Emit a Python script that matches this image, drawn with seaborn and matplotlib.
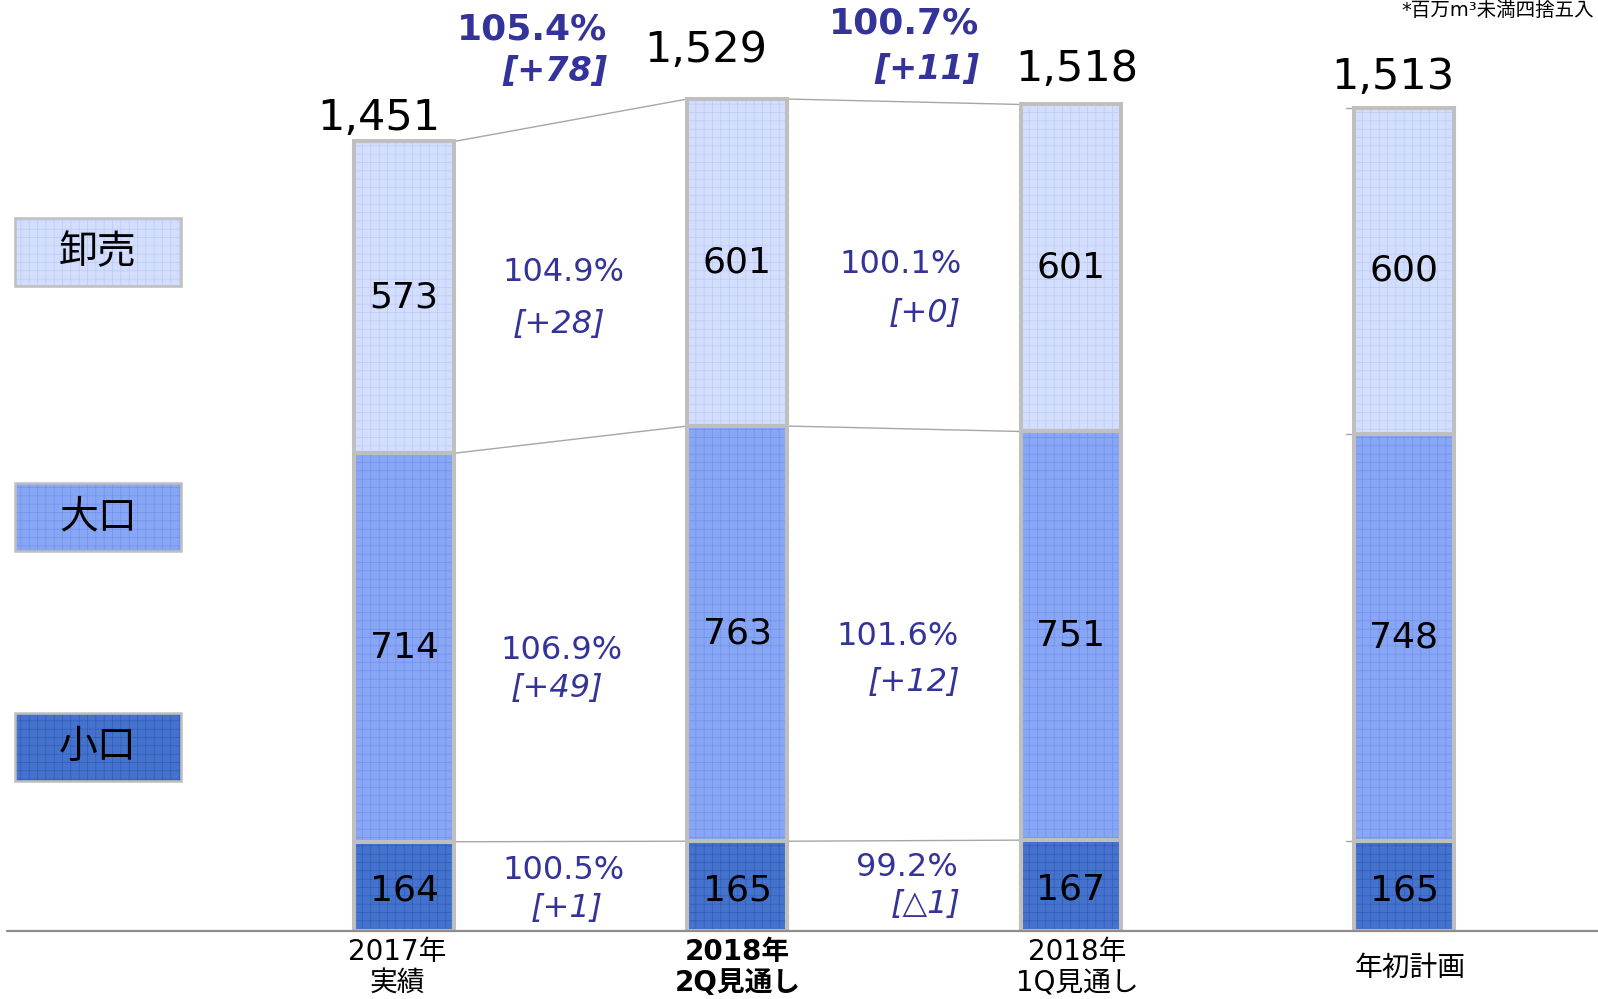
import matplotlib
matplotlib.use("Agg")
import matplotlib.pyplot as plt
from matplotlib.patches import Rectangle
import seaborn as sns
import numpy as np

# ---------------- data ----------------
categories = ["2017年実績", "2018年2Q見通し", "2018年1Q見通し", "年初計画"]
tick_labels = ["2017年\n実績", "2018年\n2Q見通し", "2018年\n1Q見通し", "年初計画"]
small = [164, 165, 167, 165]        # 小口
large = [714, 763, 751, 748]        # 大口
wholesale = [573, 601, 601, 600]    # 卸売
totals = [1451, 1529, 1518, 1513]
series_names = ["卸売", "大口", "小口"]

pct_total = ["105.4%", "100.7%"]
diff_total = ["[+78]", "[+11]"]
pct_wholesale = ["104.9%", "100.1%"]
diff_wholesale = ["[+28]", "[+0]"]
pct_large = ["106.9%", "101.6%"]
diff_large = ["[+49]", "[+12]"]
pct_small = ["100.5%", "99.2%"]
diff_small = ["[+1]", "[△1]"]
note = "*百万m³未満四捨五入"

# ---------------- style ----------------
sns.set_theme(style="white")
plt.rcParams["font.family"] = ["DejaVu Sans", "Noto Sans CJK JP"]
plt.rcParams["text.color"] = "black"
plt.rcParams["hatch.linewidth"] = 0.5

c_whole, h_whole = "#d3ddfc", "#bccbf8"
c_large, h_large = "#88a6f4", "#7092f0"
c_small, h_small = "#4472cc", "#2f5cb8"
border = "#bfbfbf"
purple = "#333399"

fig = plt.figure(figsize=(15.98, 9.99), dpi=100)
ax = fig.add_axes([0, 68 / 999, 1, 931 / 999])

cum2 = [s + l for s, l in zip(small, large)]
cum3 = [s + l + w for s, l, w in zip(small, large, wholesale)]

layers = [(cum3, c_whole, h_whole), (cum2, c_large, h_large), (small, c_small, h_small)]
bar_groups = []
for vals, col, hcol in layers:
    n0 = len(ax.patches)
    sns.barplot(x=categories, y=vals, order=categories, color=col, saturation=1,
                width=0.3, ax=ax, errorbar=None, linewidth=0)
    grp = ax.patches[n0:]
    for p in grp:
        p.set_hatch("++")
        p.set_edgecolor(hcol)
        p.set_linewidth(0)
    bar_groups.append(grp)

# borders
for grp in bar_groups:
    for p in grp:
        ax.add_patch(Rectangle(p.get_xy(), p.get_width(), p.get_height(), fill=False,
                               edgecolor=border, linewidth=2.9, zorder=3))

ax.set_xlim(-1.212, 3.582)
ax.set_ylim(0, 1711)
ax.set_xticks([])
ax.set_yticks([])
ax.set_xlabel("")
ax.set_ylabel("")
for s in ax.spines.values():
    s.set_visible(False)

# baseline
ax.plot([-1.19, 3.582], [0, 0], color="#8c8c8c", lw=1.6, clip_on=False, zorder=4)

# connector lines
for grp in bar_groups:
    for i in range(2):
        a, b = grp[i], grp[i + 1]
        ax.plot([a.get_x() + a.get_width(), b.get_x()],
                [a.get_height(), b.get_height()], color="#a6a6a6", lw=1.0, zorder=2)
    p = grp[3]
    ax.plot([p.get_x() - 0.025, p.get_x()], [p.get_height()] * 2,
            color="#a6a6a6", lw=1.0, zorder=2)

# segment value labels
for i in range(4):
    ax.text(i, small[i] / 2 - 8, f"{small[i]}", ha="center", va="center", fontsize=26, zorder=5)
    ax.text(i, small[i] + large[i] / 2, f"{large[i]}", ha="center", va="center", fontsize=26, zorder=5)
    ax.text(i, cum2[i] + wholesale[i] / 2, f"{wholesale[i]}", ha="center", va="center", fontsize=26, zorder=5)

# totals
tot_dx = [-0.075, -0.095, 0.018, -0.033]
tot_dy = [43, 90, 66, 56]
for i in range(4):
    ax.text(i + tot_dx[i], bar_groups[0][i].get_height() + tot_dy[i], f"{totals[i]:,}",
            ha="center", va="center", fontsize=31)

# change labels
ax.text(0.61, 1657, pct_total[0], ha="right", va="center", fontsize=26, weight="bold", color=purple)
ax.text(0.61, 1580, diff_total[0], ha="right", va="center", fontsize=24, weight="bold", style="italic", color=purple)
ax.text(1.727, 1668, pct_total[1], ha="right", va="center", fontsize=26, weight="bold", color=purple)
ax.text(1.727, 1584, diff_total[1], ha="right", va="center", fontsize=24, weight="bold", style="italic", color=purple)

ax.text(0.477, 1210, pct_wholesale[0], ha="center", va="center", fontsize=23, color=purple)
ax.text(0.466, 1114, diff_wholesale[0], ha="center", va="center", fontsize=23, style="italic", color=purple)
ax.text(1.49, 1225, pct_wholesale[1], ha="center", va="center", fontsize=23, color=purple)
ax.text(1.67, 1135, diff_wholesale[1], ha="right", va="center", fontsize=23, style="italic", color=purple)

ax.text(0.474, 515, pct_large[0], ha="center", va="center", fontsize=23, color=purple)
ax.text(0.46, 446, diff_large[0], ha="center", va="center", fontsize=23, style="italic", color=purple)
ax.text(1.48, 541, pct_large[1], ha="center", va="center", fontsize=23, color=purple)
ax.text(1.67, 457, diff_large[1], ha="right", va="center", fontsize=23, style="italic", color=purple)

ax.text(0.48, 111, pct_small[0], ha="center", va="center", fontsize=23, color=purple)
ax.text(0.49, 41, diff_small[0], ha="center", va="center", fontsize=23, style="italic", color=purple)
ax.text(1.51, 116, pct_small[1], ha="center", va="center", fontsize=23, color=purple)
ax.text(1.67, 48, diff_small[1], ha="right", va="center", fontsize=23, style="italic", color=purple)

# x labels
xl_dx = [-0.02, 0.0, 0.02, 0.02]
for i, lab in enumerate(tick_labels):
    ax.text(i + xl_dx[i], -0.0395, lab, transform=ax.get_xaxis_transform(),
            ha="center", va="center", fontsize=20, linespacing=1.12,
            weight="bold" if i == 1 else "normal", clip_on=False)

# legend boxes
leg_boxes = [(218, 286, c_whole, h_whole), (483, 551, c_large, h_large), (713, 781, c_small, h_small)]
W, H = 1598, 999
for name, (y0, y1, col, hcol) in zip(series_names, leg_boxes):
    r = Rectangle((15 / W, 1 - y1 / H), (181 - 15) / W, (y1 - y0) / H, transform=fig.transFigure,
                  facecolor=col, edgecolor=hcol, hatch="++", linewidth=0)
    fig.patches.append(r)
    r2 = Rectangle((15 / W, 1 - y1 / H), (181 - 15) / W, (y1 - y0) / H, transform=fig.transFigure,
                   fill=False, edgecolor=border, linewidth=1.8)
    fig.patches.append(r2)
    fig.text(98 / W, 1 - (y0 + y1) / 2 / H, name, ha="center", va="center", fontsize=28)

fig.text(1594 / W, 1 - 11 / H, note, ha="right", va="center", fontsize=14)

fig.savefig("out.png", dpi=100)
